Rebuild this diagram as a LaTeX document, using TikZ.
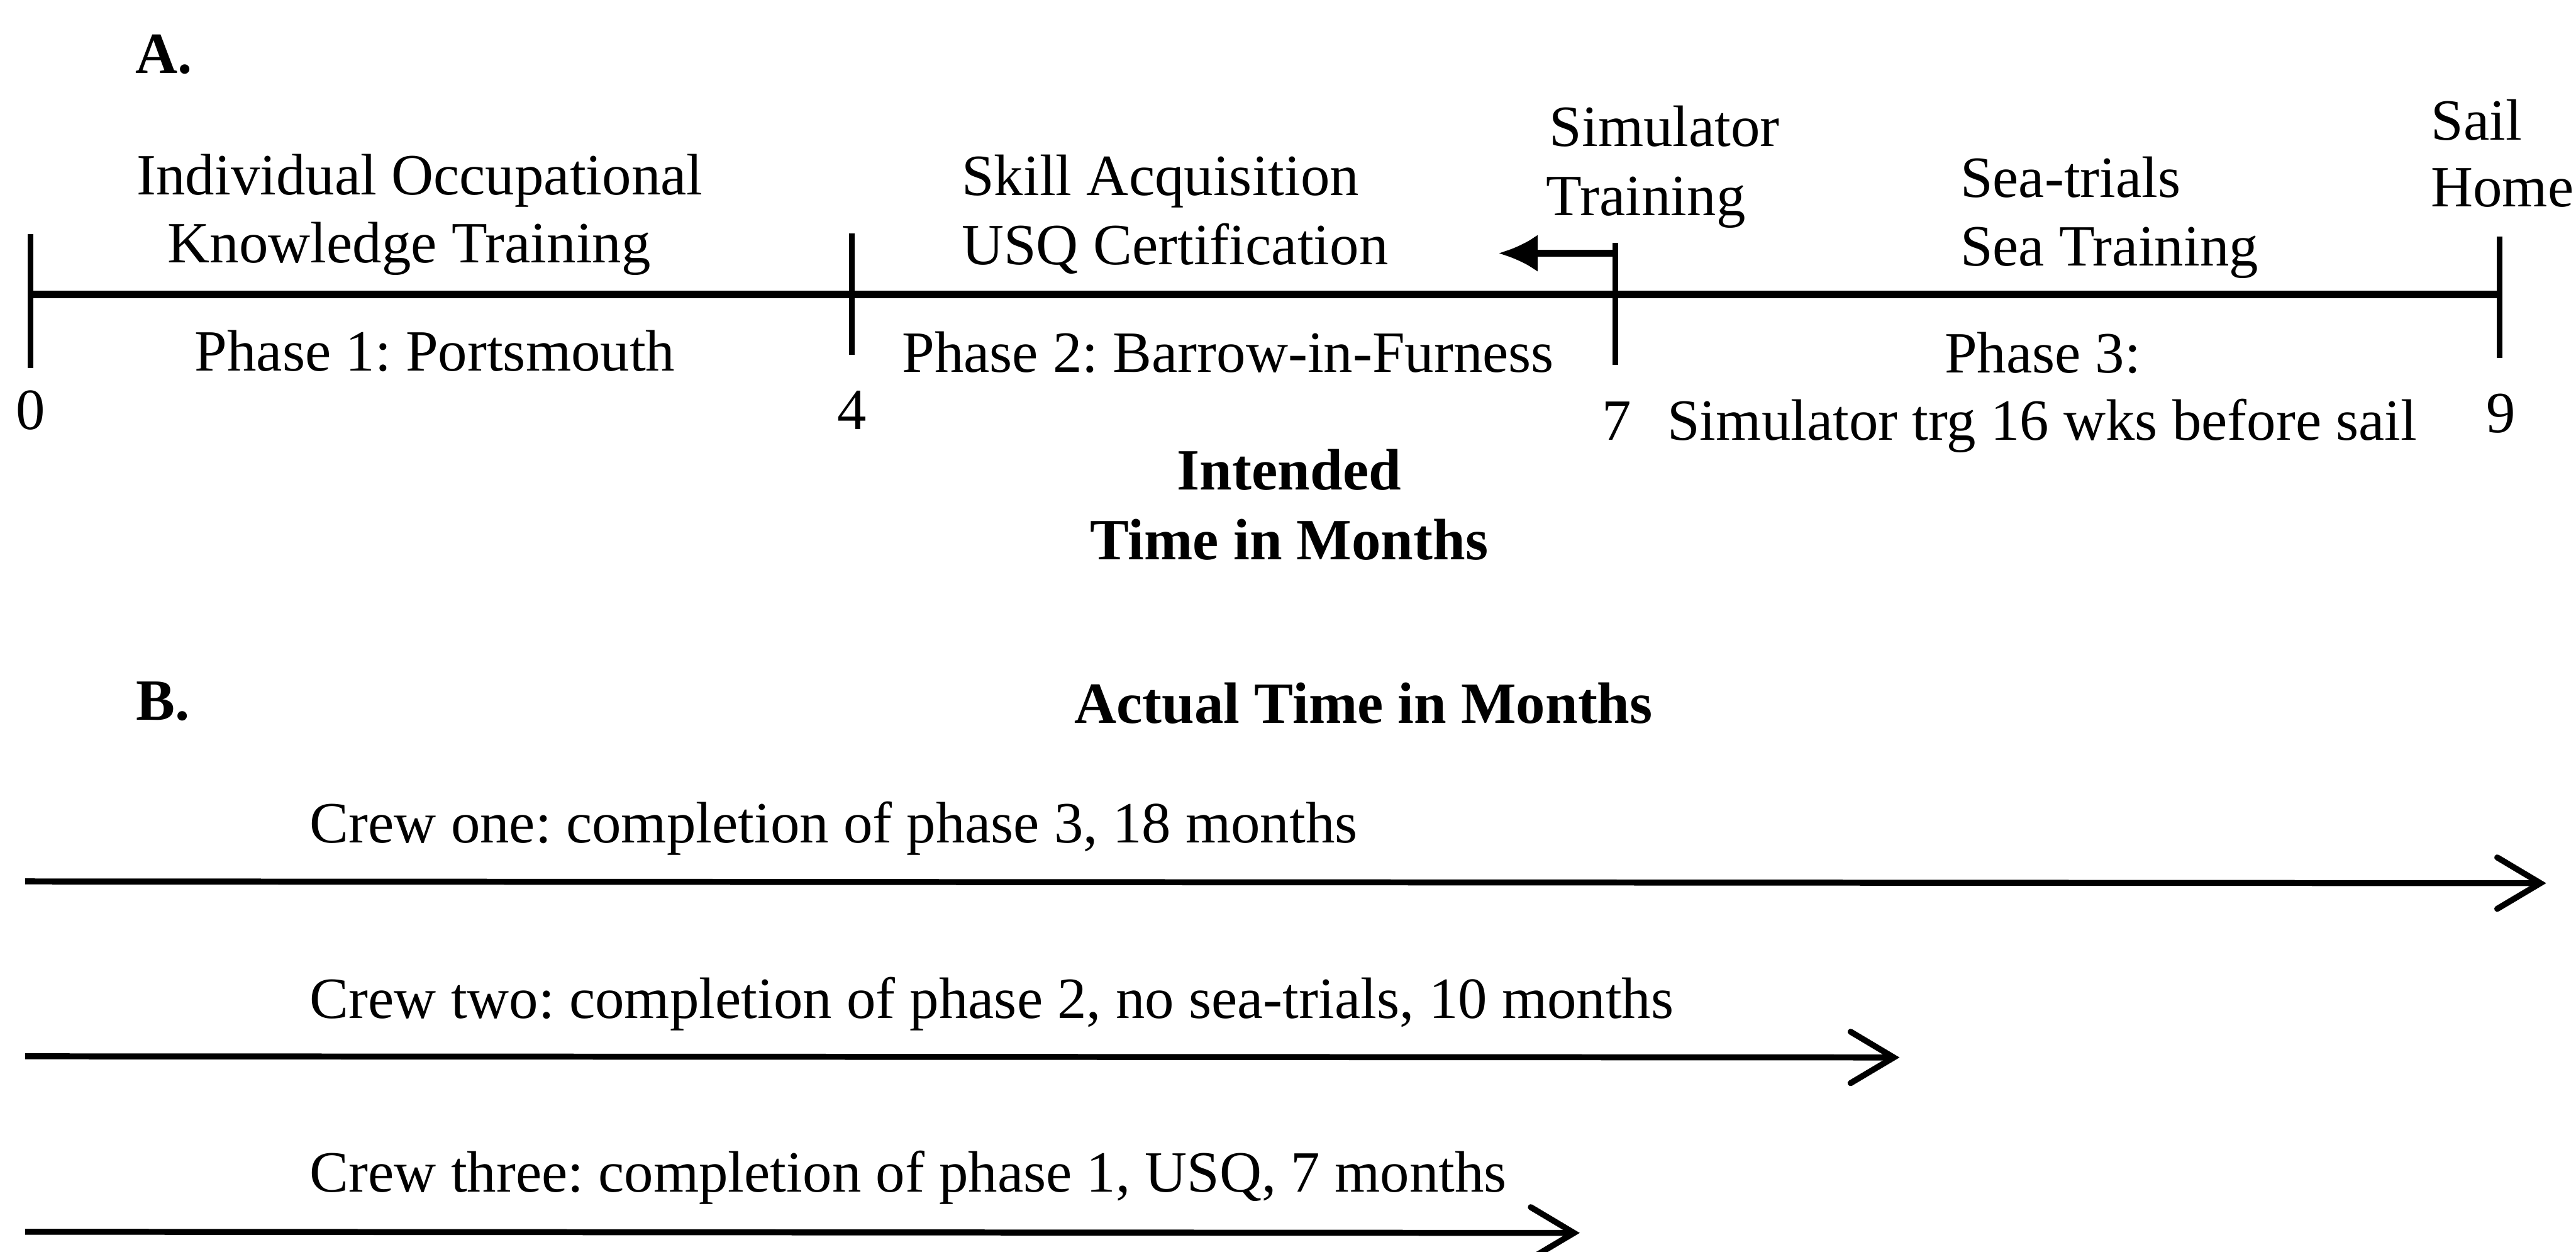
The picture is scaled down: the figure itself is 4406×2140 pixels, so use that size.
\documentclass[tikz,border=0pt]{standalone}
\usepackage{fontspec}
\setmainfont{Liberation Serif}
\usetikzlibrary{arrows.meta}
\frenchspacing
\newcommand\mysz{\fontsize{28.4pt}{34pt}\selectfont\frenchspacing}
\tikzset{
  lbl/.style={inner sep=0pt, outer sep=0pt, anchor=base west, font=\mysz},
  lblc/.style={inner sep=0pt, outer sep=0pt, anchor=base, font=\mysz},
  bl/.style={inner sep=0pt, outer sep=0pt, anchor=base west, font=\mysz\bfseries},
  blc/.style={inner sep=0pt, outer sep=0pt, anchor=base, font=\mysz\bfseries},
  axisline/.style={line width=3.7pt},
  tickline/.style={line width=2.8pt},
  simarrow/.style={line width=3.1pt, -{Latex[length=19pt,width=18pt]}},
  crewarrow/.style={line width=2.9pt, -{Straight Barb[length=21pt,width=25pt,line cap=round]}}
}
\begin{document}
\begin{tikzpicture}[x=0.01cm,y=-0.01cm]
\useasboundingbox (0,0) rectangle (4406,2140);
% ---- Part A: timeline ----
\coordinate (t0) at (52,503);
\coordinate (t9) at (4275,503);
\coordinate (k0a) at (52,400);   \coordinate (k0b) at (52,629);
\coordinate (k4a) at (1457,399); \coordinate (k4b) at (1457,607);
\coordinate (k7a) at (2763,415); \coordinate (k7b) at (2763,624);
\coordinate (k9a) at (4275,404); \coordinate (k9b) at (4275,612);
\coordinate (simstart) at (2763,433);
\coordinate (simtip) at (2563,433);
\draw[axisline] (t0) -- (t9);
\draw[tickline] (k0a) -- (k0b);
\draw[tickline] (k4a) -- (k4b);
\draw[tickline] (k7a) -- (k7b);
\draw[tickline] (k9a) -- (k9b);
\draw[simarrow] (simstart) -- (simtip);

\node[bl] (labA) at (232,125) {A.};
\node[lblc] (ioa) at (718,333) {Individual Occupational};
\node[lblc] (iob) at (700,449) {Knowledge Training};
\node[lblc] (ph1) at (744,634) {Phase 1: Portsmouth};
\node[lblc] (n0) at (52,734) {0};
\node[lblc] (n4) at (1457,734) {4};
\node[lbl] (ska) at (1645,334) {Skill Acquisition};
\node[lbl] (skb) at (1645,452) {USQ Certification};
\node[lbl] (ph2) at (1543,636) {Phase 2: Barrow-in-Furness};
\node[lbl] (sima) at (2650,250) {Simulator};
\node[lbl] (simb) at (2645,368) {Training};
\node[lbl] (seaa) at (3353,337) {Sea-trials};
\node[lbl] (seab) at (3353,454) {Sea Training};
\node[lbl] (saila) at (4158,239) {Sail};
\node[lbl] (sailb) at (4158,353) {Home};
\node[lbl] (ph3) at (3326,637) {Phase 3:};
\node[lblc] (n7) at (2765,752) {7};
\node[lbl] (simtrg) at (2852,752) {Simulator trg 16 wks before sail};
\node[lblc] (n9) at (4278,739) {9};
\node[blc] (inta) at (2205,837) {Intended};
\node[blc] (intb) at (2205,957) {Time in Months};

% ---- Part B ----
\node[bl] (labB) at (233,1231) {B.};
\node[bl] (act) at (1838,1236) {Actual Time in Months};
\node[lbl] (crew1) at (530,1441) {Crew one: completion of phase 3, 18 months};
\node[lbl] (crew2) at (530,1741) {Crew two: completion of phase 2, no sea-trials, 10 months};
\node[lbl] (crew3) at (530,2038) {Crew three: completion of phase 1, USQ, 7 months};
\coordinate (c1s) at (43,1507); \coordinate (c1e) at (4355,1510);
\coordinate (c2s) at (43,1806); \coordinate (c2e) at (3249,1808);
\coordinate (c3s) at (43,2106); \coordinate (c3e) at (2702,2108);
\draw[crewarrow] (c1s) -- (c1e);
\draw[crewarrow] (c2s) -- (c2e);
\draw[crewarrow] (c3s) -- (c3e);
\end{tikzpicture}
\end{document}
